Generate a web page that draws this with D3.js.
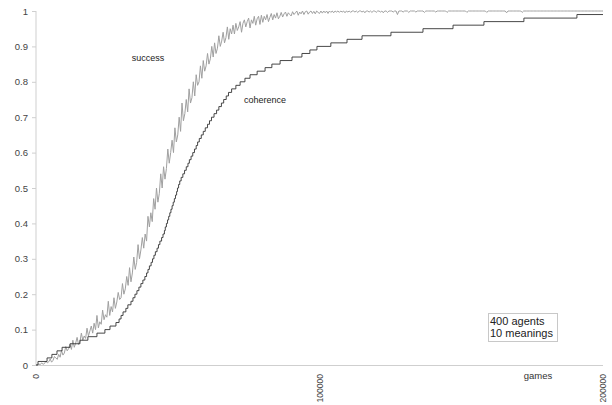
<!DOCTYPE html>
<html>
<head>
<meta charset="utf-8">
<script src="https://cdn.jsdelivr.net/npm/d3@7"></script>
<style>
  body { margin: 0; background: #fff; }
  svg { display: block; font-family: "Liberation Sans", Arial, sans-serif; }
</style>
</head>
<body>
<div id="chart"></div>
<script>
// success sampled every 500 games (0 .. 200000), one row = 10000 games
var successStep = 500;
var successValues = [
  0, 0.001, 0.003, 0.001, 0.006, 0.002, 0.004, 0.011, 0.006, 0.009, 0.017, 0.008, 0.013, 0.024, 0.020, 0.016, 0.030, 0.022, 0.041, 0.028,
  0.034, 0.052, 0.040, 0.046, 0.058, 0.044, 0.070, 0.050, 0.062, 0.078, 0.058, 0.066, 0.090, 0.070, 0.082, 0.075, 0.104, 0.082, 0.096, 0.110,
  0.090, 0.118, 0.100, 0.140, 0.105, 0.122, 0.115, 0.155, 0.128, 0.142, 0.135, 0.180, 0.140, 0.165, 0.150, 0.190, 0.160, 0.178, 0.205, 0.185,
  0.190, 0.230, 0.200, 0.215, 0.250, 0.225, 0.275, 0.235, 0.260, 0.305, 0.270, 0.290, 0.340, 0.300, 0.325, 0.360, 0.330, 0.370, 0.350, 0.420,
  0.390, 0.430, 0.405, 0.470, 0.440, 0.500, 0.460, 0.485, 0.540, 0.500, 0.560, 0.525, 0.555, 0.610, 0.570, 0.600, 0.635, 0.600, 0.670, 0.630,
  0.650, 0.700, 0.660, 0.740, 0.690, 0.710, 0.750, 0.715, 0.780, 0.740, 0.755, 0.800, 0.760, 0.820, 0.790, 0.800, 0.845, 0.810, 0.860, 0.830,
  0.845, 0.880, 0.850, 0.865, 0.900, 0.870, 0.910, 0.880, 0.895, 0.930, 0.900, 0.915, 0.940, 0.910, 0.925, 0.955, 0.920, 0.950, 0.935, 0.960,
  0.935, 0.965, 0.945, 0.955, 0.970, 0.940, 0.965, 0.975, 0.955, 0.970, 0.980, 0.952, 0.975, 0.965, 0.985, 0.960, 0.978, 0.985, 0.962, 0.988,
  0.968, 0.985, 0.975, 0.990, 0.970, 0.982, 0.993, 0.975, 0.990, 0.980, 0.995, 0.978, 0.985, 0.996, 0.983, 0.992, 0.997, 0.985, 0.995, 0.990,
  0.986, 0.998, 0.990, 0.995, 1, 0.988, 0.997, 0.992, 1, 0.990, 0.998, 1, 0.991, 0.997, 1, 0.993, 0.999, 0.992, 1, 0.996,
  0.993, 1, 0.994, 1, 0.995, 1, 0.993, 1, 0.996, 1, 0.995, 1, 0.997, 1, 0.996, 1, 0.997, 1, 0.995, 1,
  0.997, 1, 0.996, 1, 1, 0.997, 1, 0.996, 1, 1, 0.997, 1, 0.995, 1, 1, 0.997, 1, 0.996, 1, 1,
  0.996, 1, 1, 0.997, 1, 0.995, 1, 1, 0.996, 1, 1, 1, 0.997, 1, 1, 0.990, 1, 1, 1, 0.997,
  1, 1, 1, 0.996, 1, 1, 1, 1, 0.997, 1, 1, 1, 1, 1, 0.996, 1, 1, 1, 1, 1,
  1, 1, 0.997, 1, 1, 1, 1, 1, 1, 1, 0.996, 1, 1, 1, 1, 1, 1, 1, 1, 1,
  1, 1, 1, 1, 0.996, 1, 1, 1, 1, 1, 1, 1, 1, 1, 1, 1, 1, 1, 0.996, 1,
  1, 1, 1, 1, 1, 1, 1, 1, 1, 1, 1, 1, 0.995, 1, 1, 1, 1, 1, 1, 1,
  1, 1, 1, 0.996, 1, 1, 1, 1, 1, 1, 1, 1, 1, 1, 1, 1, 1, 1, 1, 1,
  1, 1, 1, 1, 1, 1, 1, 1, 1, 1, 1, 1, 1, 1, 1, 1, 1, 1, 1, 1,
  1, 1, 1, 1, 1, 1, 1, 1, 1, 1, 1, 1, 1, 1, 1, 1, 1, 1, 1, 1,
  1
];

// coherence: games at which each level is reached
var coherenceGames = [
  0, 700, 3900, 5600, 7400, 9200, 12000, 15500, 18300, 21500, 24300,
  26100, 28200, 29300, 30000, 30700, 31700, 32400, 33500, 34200, 34900,
  35600, 36300, 37000, 37700, 38400, 39000, 39500, 40000, 40600, 41100,
  41600, 42100, 42700, 43200, 43700, 44300, 44800, 45300, 45600, 46000,
  46400, 46800, 47200, 47600, 48000, 48400, 48800, 49200, 49600, 49900,
  50300, 50700, 51200, 51800, 52400, 53000, 53600, 54100, 54700, 55300,
  55900, 56500, 57000, 57600, 58300, 59000, 59700, 60500, 61200, 61900,
  62800, 63700, 64500, 65400, 66200, 67100, 67900, 69000, 70500, 72000,
  73700, 75500, 78000, 80800, 83200, 86100, 90300, 93800, 96600, 99100,
  104000, 109700, 115000, 125200, 136500, 147100, 158000, 172100, 190800, 200000
];
var coherenceValues = [
  0, 0.01, 0.02, 0.03, 0.04, 0.05, 0.06, 0.07, 0.08, 0.09, 0.10,
  0.11, 0.12, 0.13, 0.14, 0.15, 0.16, 0.17, 0.18, 0.19, 0.20,
  0.21, 0.22, 0.23, 0.24, 0.25, 0.26, 0.27, 0.28, 0.29, 0.30,
  0.31, 0.32, 0.33, 0.34, 0.35, 0.36, 0.37, 0.38, 0.39, 0.40,
  0.41, 0.42, 0.43, 0.44, 0.45, 0.46, 0.47, 0.48, 0.49, 0.50,
  0.51, 0.52, 0.53, 0.54, 0.55, 0.56, 0.57, 0.58, 0.59, 0.60,
  0.61, 0.62, 0.63, 0.64, 0.65, 0.66, 0.67, 0.68, 0.69, 0.70,
  0.71, 0.72, 0.73, 0.74, 0.75, 0.76, 0.77, 0.78, 0.79, 0.80,
  0.81, 0.82, 0.83, 0.84, 0.85, 0.86, 0.87, 0.88, 0.89, 0.90,
  0.91, 0.92, 0.93, 0.94, 0.95, 0.96, 0.97, 0.98, 0.99, 0.99
];

var yTicks = [0, 0.1, 0.2, 0.3, 0.4, 0.5, 0.6, 0.7, 0.8, 0.9, 1];
var xTicks = [0, 100000, 200000];

const width = 612;
const height = 405;

var xScale = d3.scaleLinear().domain([0, 200000]).range([36, 603]);
var yScale = d3.scaleLinear().domain([0, 1]).range([365, 11]);

var svg = d3.select("#chart").append("svg")
  .attr("width", width)
  .attr("height", height);

// y axis
var yAxis = svg.append("g")
  .attr("transform", "translate(36,0)")
  .call(d3.axisLeft(yScale).tickValues(yTicks).tickSize(4).tickPadding(4).tickFormat(d => String(d)));
yAxis.select(".domain").attr("stroke", "#cfcfcf").attr("d", "M0," + yScale(1) + "V" + yScale(0));
yAxis.selectAll(".tick line").attr("stroke", "#cfcfcf");
yAxis.selectAll("text").attr("fill", "#444").style("font-size", "9.5px");

// x axis
var xAxis = svg.append("g")
  .attr("transform", "translate(0," + yScale(0) + ")")
  .call(d3.axisBottom(xScale).tickValues(xTicks).tickSize(0).tickFormat(d => String(d)));
xAxis.select(".domain").attr("stroke", "#cfcfcf").attr("d", "M33,0.5H" + xScale(200000));
xAxis.selectAll("text")
  .attr("fill", "#444")
  .style("font-size", "8.5px")
  .style("text-anchor", "end")
  .attr("transform", "rotate(-90)")
  .attr("x", -9)
  .attr("y", 0)
  .attr("dy", "0.32em");

svg.append("text")
  .attr("x", 538).attr("y", 379)
  .attr("text-anchor", "middle")
  .attr("fill", "#333")
  .style("font-size", "9.5px")
  .text("games");

// success line
var successData = successValues.map((v, i) => ({ x: i * successStep, y: v }));
var successLine = d3.line().x(d => xScale(d.x)).y(d => yScale(d.y));
svg.append("path")
  .datum(successData)
  .attr("fill", "none")
  .attr("stroke", "#a0a0a0")
  .attr("stroke-width", 1)
  .attr("d", successLine);

// coherence line (stepped)
var coherenceData = coherenceGames.map((g, i) => ({ x: g, y: coherenceValues[i] }));
var coherenceLine = d3.line().curve(d3.curveStepAfter).x(d => xScale(d.x)).y(d => yScale(d.y));
svg.append("path")
  .datum(coherenceData)
  .attr("fill", "none")
  .attr("stroke", "#333")
  .attr("stroke-width", 0.9)
  .attr("d", coherenceLine);

// labels
svg.append("text")
  .attr("x", 148).attr("y", 61)
  .attr("text-anchor", "middle")
  .attr("fill", "#222")
  .style("font-size", "9px")
  .text("success");

svg.append("text")
  .attr("x", 265).attr("y", 103)
  .attr("text-anchor", "middle")
  .attr("fill", "#222")
  .style("font-size", "9px")
  .text("coherence");

// info box
var box = svg.append("g").attr("transform", "translate(488,313)");
box.append("rect")
  .attr("x", 0.5).attr("y", 0.5)
  .attr("width", 69).attr("height", 28)
  .attr("fill", "#fff")
  .attr("stroke", "#c8c8c8");
box.append("text").attr("x", 2).attr("y", 11.5).attr("fill", "#222").style("font-size", "11px").text("400 agents");
box.append("text").attr("x", 2).attr("y", 23.5).attr("fill", "#222").style("font-size", "11px").text("10 meanings");
</script>
</body>
</html>
